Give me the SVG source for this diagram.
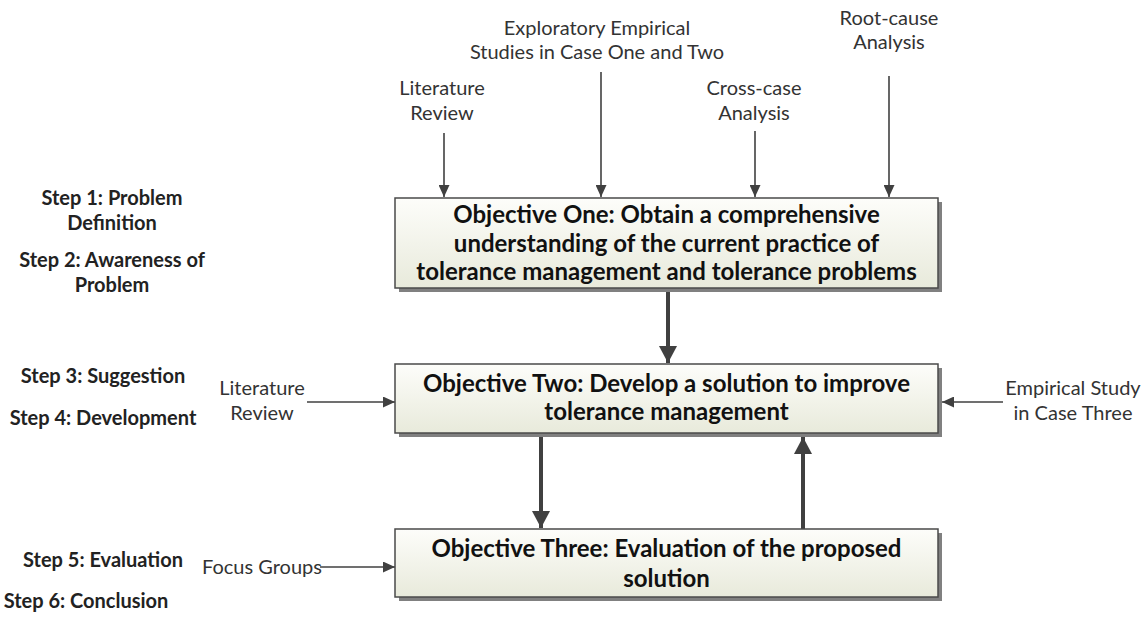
<svg xmlns="http://www.w3.org/2000/svg" width="1145" height="632" viewBox="0 0 1145 632">
<defs>
<linearGradient id="boxfill" x1="0" y1="0" x2="0" y2="1">
<stop offset="0" stop-color="#fdfdfa"/>
<stop offset="1" stop-color="#e8eadb"/>
</linearGradient>
<marker id="ah" markerUnits="userSpaceOnUse" markerWidth="12" markerHeight="11" refX="12" refY="5.5" orient="auto">
<path d="M0,0 L12,5.5 L0,11 z" fill="#404040"/>
</marker>
<marker id="ahb" markerUnits="userSpaceOnUse" markerWidth="17" markerHeight="18" refX="17" refY="9" orient="auto">
<path d="M0,0 L17,9 L0,18 z" fill="#404040"/>
</marker>
</defs>
<style>
.box{fill:url(#boxfill);stroke:#4a4a4a;stroke-width:1.5}
.shadow{fill:#808080}
.bt{font-family:Lato,"Open Sans",sans-serif;font-weight:bold;font-size:24px;fill:#111;text-anchor:middle}
.lb{font-family:Lato,"Open Sans",sans-serif;font-size:20px;fill:#333;text-anchor:middle}
.st{font-family:Lato,"Open Sans",sans-serif;font-weight:bold;font-size:20px;fill:#222;text-anchor:middle}
.thin{stroke:#404040;stroke-width:1.6;fill:none;marker-end:url(#ah)}
.thick{stroke:#404040;stroke-width:4;fill:none;marker-end:url(#ahb)}
</style>
<rect width="1145" height="632" fill="#fff"/>

<g id="steps">
<text class="st" x="112" y="205">Step 1: Problem</text>
<text class="st" x="112" y="230">Definition</text>
<text class="st" x="112" y="267">Step 2: Awareness of</text>
<text class="st" x="112" y="292">Problem</text>
<text class="st" x="103" y="383">Step 3: Suggestion</text>
<text class="st" x="103" y="425">Step 4: Development</text>
<text class="st" x="103" y="567">Step 5: Evaluation</text>
<text class="st" x="86" y="608">Step 6: Conclusion</text>
</g>

<g id="labels">
<text class="lb" x="442" y="95">Literature</text>
<text class="lb" x="442" y="120">Review</text>
<text class="lb" x="597" y="35">Exploratory Empirical</text>
<text class="lb" x="597" y="59">Studies in Case One and Two</text>
<text class="lb" x="754" y="95">Cross-case</text>
<text class="lb" x="754" y="120">Analysis</text>
<text class="lb" x="889" y="25">Root-cause</text>
<text class="lb" x="889" y="49">Analysis</text>
<text class="lb" x="262" y="395">Literature</text>
<text class="lb" x="262" y="420">Review</text>
<text class="lb" x="1073" y="395">Empirical Study</text>
<text class="lb" x="1073" y="420">in Case Three</text>
<text class="lb" x="262" y="574">Focus Groups</text>
</g>

<g id="connectors">
<line class="thin" x1="444" y1="133" x2="444" y2="197"/>
<line class="thin" x1="601" y1="72" x2="601" y2="197"/>
<line class="thin" x1="755" y1="131" x2="755" y2="197"/>
<line class="thin" x1="889" y1="76" x2="889" y2="197"/>
<line class="thin" x1="307" y1="402" x2="395" y2="402"/>
<line class="thin" x1="1003" y1="402" x2="942" y2="402"/>
<line class="thin" x1="320" y1="567" x2="395" y2="567"/>
<line class="thick" x1="668" y1="291" x2="668" y2="363"/>
<line class="thick" x1="541" y1="437" x2="541" y2="528"/>
<line class="thick" x1="803" y1="529" x2="803" y2="437"/>
</g>

<g id="obj1">
<rect class="shadow" x="399" y="202" width="543" height="90"/>
<rect class="box" x="395" y="198" width="543" height="90"/>
<text class="bt" x="666.5" y="223">Objective One: Obtain a comprehensive</text>
<text class="bt" x="666.5" y="252">understanding of the current practice of</text>
<text class="bt" x="666.5" y="280">tolerance management and tolerance problems</text>
</g>

<g id="obj2">
<rect class="shadow" x="399" y="368" width="543" height="69"/>
<rect class="box" x="395" y="364" width="543" height="69"/>
<text class="bt" x="666.5" y="392">Objective Two: Develop a solution to improve</text>
<text class="bt" x="666.5" y="420">tolerance management</text>
</g>

<g id="obj3">
<rect class="shadow" x="399" y="533" width="543" height="68"/>
<rect class="box" x="395" y="529" width="543" height="68"/>
<text class="bt" x="666.5" y="557">Objective Three: Evaluation of the proposed</text>
<text class="bt" x="666.5" y="587">solution</text>
</g>
</svg>
